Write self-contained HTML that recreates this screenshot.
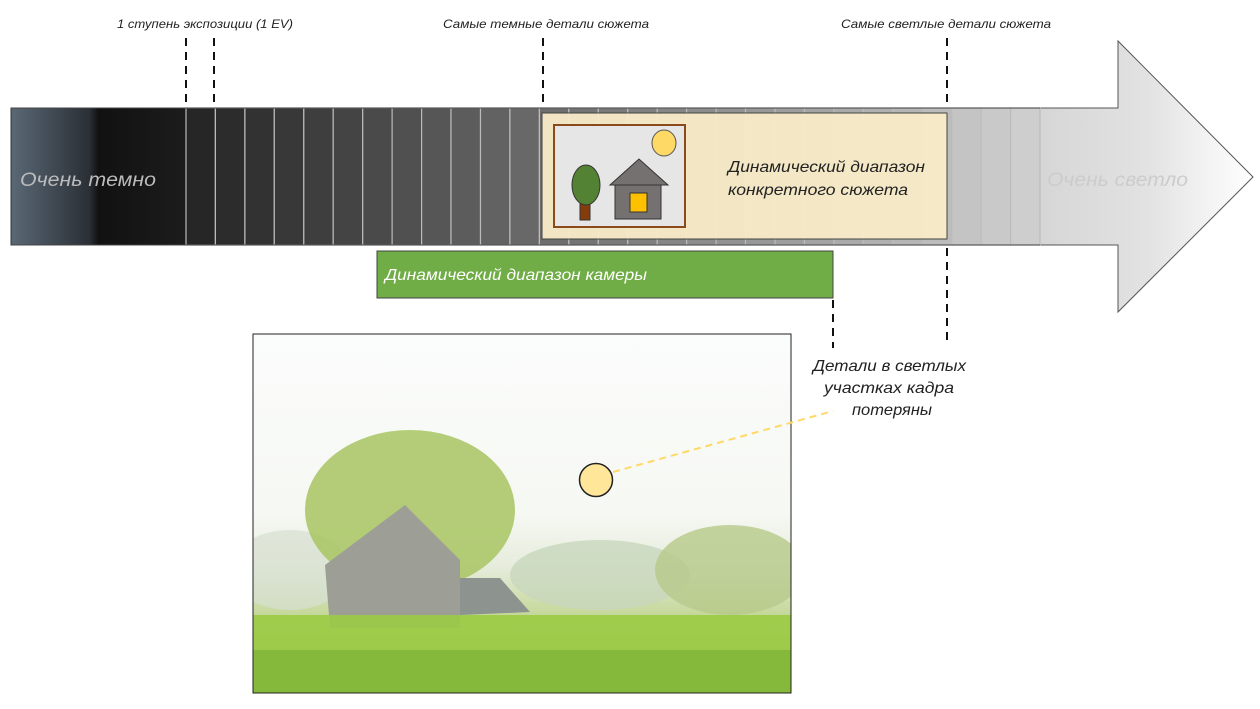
<!DOCTYPE html>
<html><head><meta charset="utf-8"><style>
html,body{margin:0;padding:0;background:#fff;}
svg{display:block;font-family:"Liberation Sans","DejaVu Sans",sans-serif;}
</style></head><body>
<svg width="1260" height="709" viewBox="0 0 1260 709" xmlns="http://www.w3.org/2000/svg">
<defs>
<linearGradient id="dk" x1="0" x2="1" y1="0" y2="0">
<stop offset="0" stop-color="#5a6876"/><stop offset="0.45" stop-color="#2a2f35"/><stop offset="0.5" stop-color="#111"/><stop offset="1" stop-color="#1c1c1c"/></linearGradient>
<linearGradient id="lt" x1="0" x2="1" y1="0" y2="0">
<stop offset="0" stop-color="#d6d6d6"/><stop offset="0.5" stop-color="#e2e2e2"/><stop offset="1" stop-color="#ffffff"/></linearGradient>
<linearGradient id="sky" x1="0" x2="0" y1="0" y2="1">
<stop offset="0" stop-color="#fbfcfc"/><stop offset="0.5" stop-color="#f6f8f3"/><stop offset="0.65" stop-color="#e6ecdc"/><stop offset="0.78" stop-color="#c5d89a"/><stop offset="1" stop-color="#7fbf3a"/></linearGradient>
<clipPath id="pc"><rect x="253" y="334" width="538" height="359"/></clipPath>
</defs>
<polygon points="1040,108 1118,108 1118,41 1253,177 1118,312 1118,245 1040,245" fill="url(#lt)" stroke="#555" stroke-width="1"/>
<rect x="11" y="108" width="175" height="137" fill="url(#dk)" stroke="#333"/>
<g stroke="#bbb" stroke-width="1.2">
<rect x="186" y="108" width="29.4" height="137" fill="#262626"/>
<rect x="215.4" y="108" width="29.5" height="137" fill="#2c2c2c"/>
<rect x="244.9" y="108" width="29.4" height="137" fill="#323232"/>
<rect x="274.3" y="108" width="29.5" height="137" fill="#383838"/>
<rect x="303.8" y="108" width="29.4" height="137" fill="#3e3e3e"/>
<rect x="333.2" y="108" width="29.5" height="137" fill="#444"/>
<rect x="362.7" y="108" width="29.4" height="137" fill="#4a4a4a"/>
<rect x="392.1" y="108" width="29.5" height="137" fill="#505050"/>
<rect x="421.6" y="108" width="29.4" height="137" fill="#565656"/>
<rect x="451" y="108" width="29.5" height="137" fill="#5c5c5c"/>
<rect x="480.5" y="108" width="29.4" height="137" fill="#626262"/>
<rect x="509.9" y="108" width="29.5" height="137" fill="#686868"/>
<rect x="539.4" y="108" width="29.4" height="137" fill="#6e6e6e"/>
<rect x="568.8" y="108" width="29.5" height="137" fill="#747474"/>
<rect x="598.3" y="108" width="29.4" height="137" fill="#7a7a7a"/>
<rect x="627.7" y="108" width="29.5" height="137" fill="#808080"/>
<rect x="657.2" y="108" width="29.4" height="137" fill="#868686"/>
<rect x="686.6" y="108" width="29.5" height="137" fill="#8c8c8c"/>
<rect x="716.1" y="108" width="29.4" height="137" fill="#929292"/>
<rect x="745.5" y="108" width="29.5" height="137" fill="#989898"/>
<rect x="775" y="108" width="29.4" height="137" fill="#9e9e9e"/>
<rect x="804.4" y="108" width="29.5" height="137" fill="#a4a4a4"/>
<rect x="833.9" y="108" width="29.4" height="137" fill="#aaa"/>
<rect x="863.3" y="108" width="29.5" height="137" fill="#b0b0b0"/>
<rect x="892.8" y="108" width="29.4" height="137" fill="#b6b6b6"/>
<rect x="922.2" y="108" width="29.5" height="137" fill="#bcbcbc"/>
<rect x="951.7" y="108" width="29.4" height="137" fill="#c4c4c4"/>
<rect x="981.1" y="108" width="29.5" height="137" fill="#c9c9c9"/>
<rect x="1010.6" y="108" width="29.4" height="137" fill="#cecece"/>
</g>
<line x1="11" y1="108" x2="1040" y2="108" stroke="#444"/>
<line x1="11" y1="245" x2="1040" y2="245" stroke="#444"/>
<text x="20" y="186" font-size="19" font-style="italic" fill="#bbb" textLength="136" lengthAdjust="spacingAndGlyphs">Очень темно</text>
<text x="1047" y="186" font-size="19" font-style="italic" fill="#ccc" textLength="141" lengthAdjust="spacingAndGlyphs">Очень светло</text>
<rect x="542" y="113" width="405" height="126" fill="#f8ebc8" fill-opacity="0.95" stroke="#444"/>
<rect x="554" y="125" width="131" height="102" fill="#e6e6e6" stroke="#8b4a1b" stroke-width="2"/>
<ellipse cx="664" cy="143" rx="12" ry="13" fill="#ffd966" stroke="#555"/>
<rect x="580" y="201" width="10" height="19" fill="#843c0c" stroke="#333"/>
<ellipse cx="586" cy="185" rx="14" ry="20" fill="#548235" stroke="#333"/>
<rect x="615" y="184" width="46" height="35" fill="#767171" stroke="#333"/>
<polygon points="610,185 639,159 668,185" fill="#767171" stroke="#333"/>
<rect x="630" y="193" width="17" height="19" fill="#ffc000" stroke="#333"/>
<text x="728" y="172" font-size="16" font-style="italic" fill="#222" textLength="197" lengthAdjust="spacingAndGlyphs">Динамический диапазон</text>
<text x="728" y="195" font-size="16" font-style="italic" fill="#222" textLength="180" lengthAdjust="spacingAndGlyphs">конкретного сюжета</text>
<rect x="377" y="251" width="456" height="47" fill="#70ad47" stroke="#444"/>
<text x="385" y="280" font-size="16" font-style="italic" fill="#fff" textLength="262" lengthAdjust="spacingAndGlyphs">Динамический диапазон камеры</text>
<g stroke="#111" stroke-width="2" stroke-dasharray="8,6">
<line x1="186" y1="38" x2="186" y2="102"/>
<line x1="214" y1="38" x2="214" y2="102"/>
<line x1="543" y1="38" x2="543" y2="102"/>
<line x1="947" y1="38" x2="947" y2="102"/>
<line x1="947" y1="248" x2="947" y2="345"/>
<line x1="833" y1="300" x2="833" y2="348"/>
</g>
<g font-size="12" font-style="italic" fill="#222">
<text x="117" y="28" textLength="176" lengthAdjust="spacingAndGlyphs">1 ступень экспозиции (1 EV)</text>
<text x="443" y="28" textLength="206" lengthAdjust="spacingAndGlyphs">Самые темные детали сюжета</text>
<text x="841" y="28" textLength="210" lengthAdjust="spacingAndGlyphs">Самые светлые детали сюжета</text>
</g>
<g font-size="16" font-style="italic" fill="#222">
<text x="813" y="371" textLength="153" lengthAdjust="spacingAndGlyphs">Детали в светлых</text>
<text x="824" y="393" textLength="130" lengthAdjust="spacingAndGlyphs">участках кадра</text>
<text x="852" y="415" textLength="80" lengthAdjust="spacingAndGlyphs">потеряны</text>
</g>
<rect x="253" y="334" width="538" height="359" fill="url(#sky)"/>
<g clip-path="url(#pc)">
<ellipse cx="290" cy="570" rx="60" ry="40" fill="#d7e0d2" opacity="0.7"/>
<ellipse cx="410" cy="510" rx="105" ry="80" fill="#a8c462" opacity="0.85"/>
<ellipse cx="600" cy="575" rx="90" ry="35" fill="#c8d7bd" opacity="0.8"/>
<ellipse cx="730" cy="570" rx="75" ry="45" fill="#b7c98a" opacity="0.8"/>
<polygon points="325,565 405,505 460,560 460,628 330,628" fill="#9d9f96"/>
<polygon points="460,578 500,578 530,612 460,615" fill="#8d9490"/>
<rect x="253" y="615" width="538" height="78" fill="#9ccb45" opacity="0.9"/>
<rect x="253" y="650" width="538" height="43" fill="#7fb43a" opacity="0.8"/>
</g>
<rect x="253" y="334" width="538" height="359" fill="none" stroke="#222"/>
<line x1="613" y1="472" x2="833" y2="411" stroke="#ffd966" stroke-width="2" stroke-dasharray="7,5"/>
<circle cx="596" cy="480" r="16.5" fill="#ffe699" stroke="#222" stroke-width="1.5"/>
</svg>
</body></html>
